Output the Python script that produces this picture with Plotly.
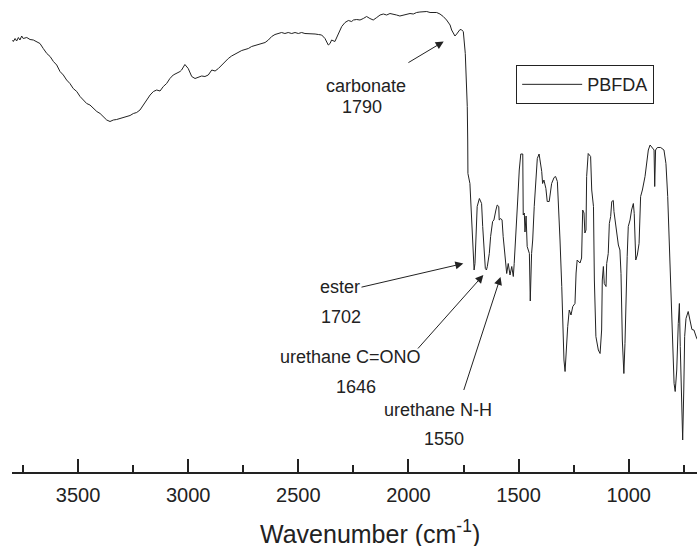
import plotly.graph_objects as go

# FTIR spectrum of PBFDA: wavenumber (cm^-1) and transmittance (%)
wavenumber = [
    3797, 3794, 3786, 3779, 3771, 3764, 3756, 3749, 3733, 3718, 3703, 3688, 3673, 3658,
    3642, 3627, 3612, 3597, 3582, 3567, 3552, 3537, 3522, 3506, 3491, 3476, 3461, 3446,
    3431, 3415, 3400, 3385, 3370, 3355, 3340, 3325, 3310, 3295, 3279, 3264, 3249, 3234,
    3219, 3204, 3188, 3173, 3158, 3143, 3128, 3113, 3098, 3083, 3068, 3052, 3037,
    3030, 3015, 3000, 2984, 2969, 2954, 2939, 2924, 2909, 2893, 2878, 2863, 2848, 2833,
    2818, 2803, 2788, 2773, 2757, 2742, 2727, 2712, 2697, 2682, 2666, 2651, 2636, 2621,
    2606, 2591, 2576, 2561, 2546, 2530, 2515, 2500, 2485, 2470, 2455, 2439, 2424, 2409,
    2394, 2379, 2364, 2356, 2349, 2334, 2319, 2303, 2288, 2273, 2258,
    2250, 2235, 2220, 2205, 2190, 2175, 2160, 2144, 2129, 2114, 2099, 2084, 2069, 2054,
    2039, 2024, 2008, 1993, 1978, 1963, 1948, 1933, 1917, 1902, 1887, 1872, 1857, 1842,
    1827, 1811, 1804, 1796, 1789, 1781, 1774, 1766, 1758, 1751,
    1742, 1736, 1733, 1731, 1730, 1721, 1713, 1708, 1705, 1702, 1698, 1693, 1688, 1678,
    1672, 1668, 1663, 1657, 1651, 1646, 1642, 1633, 1627, 1618, 1612, 1603, 1597, 1590,
    1588, 1581, 1575, 1570, 1562, 1554, 1547, 1539, 1531, 1524, 1520, 1512, 1504, 1497,
    1490, 1481, 1479, 1474, 1471, 1466, 1461, 1451, 1447, 1441, 1436, 1429, 1421, 1415,
    1407, 1403, 1395, 1391, 1385, 1376, 1370, 1361, 1358, 1350, 1339, 1332, 1324, 1318,
    1312, 1304, 1300, 1294, 1289, 1285, 1277, 1270, 1262, 1254, 1244, 1239, 1234, 1221,
    1214, 1209, 1203, 1199, 1194, 1191, 1184, 1173, 1168, 1160, 1156, 1149, 1138, 1130,
    1123, 1120, 1115, 1111, 1103, 1100, 1093, 1088, 1082, 1077, 1070, 1067, 1059, 1047,
    1040, 1035, 1029, 1022, 1017, 1012, 1007, 1002, 994, 987, 979, 975, 968, 961,
    953, 946, 938, 926, 918, 911, 903, 893, 885, 882, 878, 870, 855, 840,
    831, 823, 816, 808, 800, 794, 789, 782, 775, 770, 766, 760, 755, 750,
    746, 740, 730, 722, 713, 704, 691, 681,
]
transmittance = [
    86.4, 86.1, 86.7, 86.2, 86.9, 86.4, 87.2, 86.7, 86.9, 86.5, 86.4, 86.1, 85.7, 84.7,
    83.7, 83.1, 82.1, 81.4, 80.1, 79.4, 78.4, 77.7, 76.7, 76.1, 75.1, 74.4, 73.7, 73.4,
    72.7, 72.1, 71.7, 71.1, 70.4, 70.1, 70.4, 70.5, 70.7, 70.9, 71.1, 71.3, 71.7, 71.9,
    72.4, 73.4, 74.4, 75.4, 76.1, 76.4, 76.2, 77.1, 77.7, 78.7, 79.4, 79.7, 80.1,
    80.4, 81.5, 80.7, 79.1, 78.7, 78.9, 79.2, 79.1, 79.4, 80.4, 80.2, 80.7, 81.4, 82.1,
    82.7, 83.2, 83.6, 83.9, 84.3, 84.5, 84.7, 85.1, 85.3, 85.4, 85.7, 85.9, 86.4, 87.1,
    87.5, 87.7, 87.9, 87.7, 87.9, 87.7, 87.9, 87.7, 87.9, 87.7, 87.7, 87.7, 87.6, 87.5,
    87.4, 86.7, 85.4, 85.7, 86.4, 86.1, 87.7, 89.1, 89.9, 90.3, 90.1,
    90.4, 90.5, 90.4, 90.7, 91.1, 90.7, 90.4, 90.9, 91.4, 91.6, 91.4, 91.7, 91.6, 91.4,
    91.2, 91.4, 91.6, 91.7, 91.6, 91.9, 92.0, 92.1, 92.1, 91.9, 91.9, 91.9, 91.6, 91.1,
    90.4, 89.4, 88.4, 87.7, 87.2, 87.6, 88.1, 88.5, 88.4, 88.1,
    83.7, 78.4, 73.1, 66.4, 59.7, 57.7, 49.7, 44.4, 40.9, 40.4, 41.7, 49.8, 53.1, 54.7,
    54.1, 53.7, 49.1, 44.4, 40.7, 40.4, 41.1, 43.7, 47.1, 50.1, 50.4, 52.4, 53.4, 53.1,
    50.4, 50.7, 50.4, 47.1, 43.1, 39.7, 41.7, 39.4, 41.1, 39.1, 41.7, 47.1, 54.4, 60.4,
    63.6, 63.6, 51.4, 51.8, 48.0, 51.2, 45.1, 43.7, 34.2, 43.7, 46.4, 53.1, 58.4, 62.7,
    63.6, 62.4, 60.1, 57.7, 58.4, 56.7, 54.1, 54.1, 55.1, 57.7, 58.9, 59.1, 58.1, 53.1,
    46.4, 37.1, 29.1, 22.4, 20.1, 23.7, 29.1, 32.4, 31.4, 33.1, 33.7, 39.8, 42.4, 41.8,
    42.8, 52.4, 51.8, 47.8, 48.4, 59.1, 63.7, 63.1, 56.4, 53.1, 38.4, 27.1, 24.4, 23.7,
    28.4, 38.4, 41.1, 37.7, 37.1, 41.7, 43.7, 49.7, 51.1, 54.1, 54.3, 52.1, 49.1, 45.4,
    44.4, 39.7, 26.4, 19.7, 25.7, 37.1, 43.1, 49.1, 50.4, 52.4, 53.7, 51.7, 42.4, 43.4,
    45.7, 55.1, 56.4, 59.1, 61.7, 64.4, 65.4, 64.7, 64.4, 57.1, 64.4, 64.9, 64.9, 64.4,
    61.7, 55.1, 45.1, 35.1, 25.1, 17.7, 16.1, 20.4, 29.7, 33.7, 25.1, 11.7, 6.4, 16.4,
    27.1, 30.7, 32.1, 30.4, 28.5, 28.4, 26.7, 26.0,
]

# Band assignments: label lines, label position, arrow tail and arrow head
band_names = ["carbonate", "ester", "urethane C=ONO", "urethane N-H"]
band_values = ["1790", "1702", "1646", "1550"]
name_pos = [(2195, 77.2), (2311, 37.0), (2262, 23.1), (1868, 12.5)]
value_pos = [(2213, 73.0), (2306, 31.1), (2237, 17.1), (1839, 6.6)]
arrow_tail = [(2007, 81.7), (2220, 36.9), (1963, 24.4), (1751, 16.1)]
arrow_head = [(1840, 86.1), (1751, 41.7), (1660, 39.4), (1582, 39.0)]

x_range = [3800, 690]
y_range = [0, 94.4]
major_ticks = [3500, 3000, 2500, 2000, 1500, 1000]
x_title = "Wavenumber (cm<sup>-1</sup>)"

FONT = "Liberation Sans, Arial, sans-serif"
INK = "#222222"

fig = go.Figure()
fig.add_trace(go.Scatter(
    x=wavenumber, y=transmittance, mode="lines", name="PBFDA",
    line=dict(color=INK, width=1),
))

annotations = []
for name, vtxt, npos, vpos in zip(band_names, band_values, name_pos, value_pos):
    annotations.append(dict(x=npos[0], y=npos[1], xref="x", yref="y", text=name,
                            showarrow=False, xanchor="center", yanchor="middle",
                            font=dict(family=FONT, size=18, color=INK)))
    annotations.append(dict(x=vpos[0], y=vpos[1], xref="x", yref="y", text=vtxt,
                            showarrow=False, xanchor="center", yanchor="middle",
                            font=dict(family=FONT, size=18, color=INK)))
for tail, head in zip(arrow_tail, arrow_head):
    annotations.append(dict(x=head[0], y=head[1], xref="x", yref="y",
                            ax=tail[0], ay=tail[1], axref="x", ayref="y",
                            text="", showarrow=True, arrowhead=2, arrowsize=1.6,
                            arrowwidth=1, arrowcolor=INK, standoff=0, startstandoff=0))

# x-axis title, set slightly right of the plot centre
annotations.append(dict(x=0.5226, y=-0.127, xref="paper", yref="paper", text=x_title,
                        showarrow=False, xanchor="center", yanchor="middle",
                        font=dict(family=FONT, size=25, color=INK)))

fig.update_layout(
    width=697, height=546,
    margin=dict(l=12, r=0, t=0, b=74),
    paper_bgcolor="white", plot_bgcolor="white",
    font=dict(family=FONT, color=INK),
    annotations=annotations,
    showlegend=True,
    legend=dict(x=0.736, y=0.862, xanchor="left", yanchor="top",
                bordercolor=INK, borderwidth=1, bgcolor="white",
                font=dict(family=FONT, size=18, color=INK),
                itemwidth=60, tracegroupgap=0),
    xaxis=dict(
        range=x_range, showgrid=False, zeroline=False,
        showline=True, linecolor=INK, linewidth=2,
        tickmode="array", tickvals=major_ticks,
        ticks="inside", ticklen=13, tickwidth=2, tickcolor=INK,
        ticklabelstandoff=4,
        minor=dict(dtick=250, tick0=0, ticks="inside", ticklen=7, tickwidth=2, tickcolor=INK),
        tickfont=dict(family=FONT, size=20, color=INK),
    ),
    yaxis=dict(range=y_range, visible=False, showgrid=False, zeroline=False),
)

fig.write_html("out.html")
